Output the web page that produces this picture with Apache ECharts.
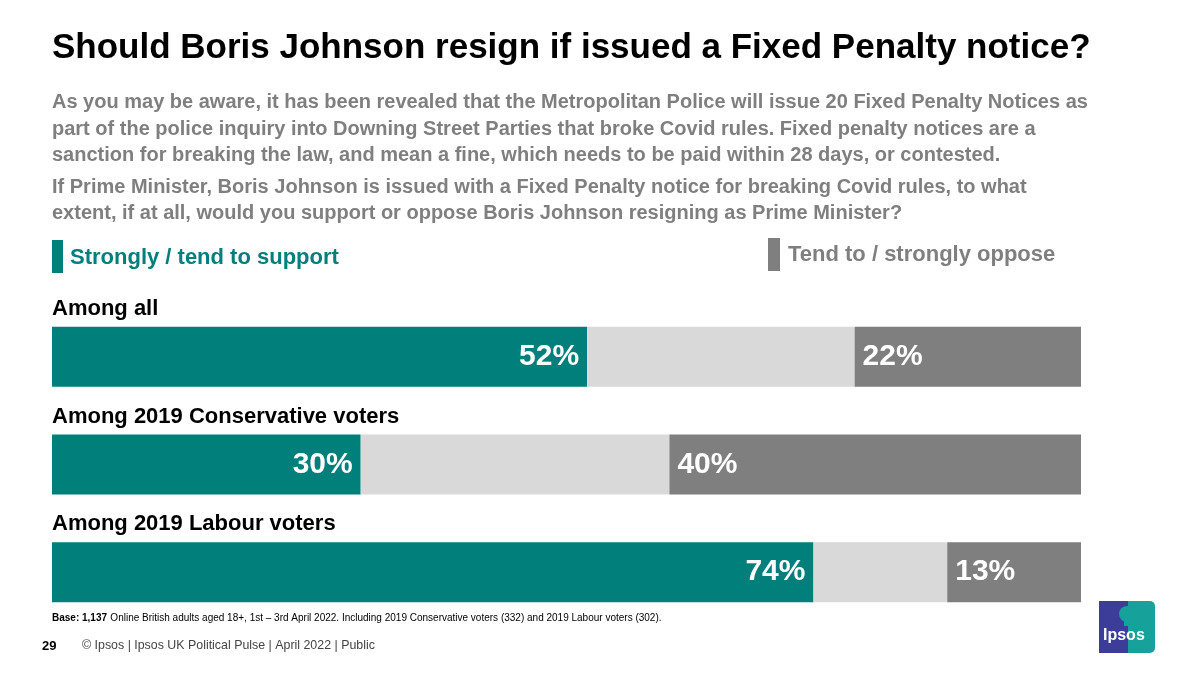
<!DOCTYPE html>
<html>
<head>
<meta charset="utf-8">
<script src="https://cdn.jsdelivr.net/npm/echarts@6/dist/echarts.min.js"></script>
<style>html,body{margin:0;padding:0;background:#fff;}#c{width:1200px;height:675px;}</style>
</head>
<body>
<div id="c"></div>
<script>
const categories = ['Among all', 'Among 2019 Conservative voters', 'Among 2019 Labour voters'];
const support = [52, 30, 74];
const neither = [26, 30, 13];
const oppose = [22, 40, 13];

const FONT = '"Liberation Sans", Arial, Helvetica, sans-serif';
const TEAL = '#007F7B';
const DGREY = '#7F7F7F';
const LGREY = '#D9D9D9';

const chart = echarts.init(document.getElementById('c'));
const subStyle = {fill: '#7F7F7F', font: 'bold 20px ' + FONT};
chart.setOption({
  animation: false,
  grid: {left: 52, right: 119, top: 303, bottom: 49, containLabel: false},
  xAxis: {type: 'value', min: 0, max: 100, show: false},
  yAxis: {
    type: 'category', data: categories, inverse: true,
    axisLine: {show: false}, axisTick: {show: false}, splitLine: {show: false},
    axisLabel: {
      inside: true, align: 'left', verticalAlign: 'bottom', margin: 0,
      padding: [0, 0, 37, 0],
      color: '#000', fontFamily: FONT, fontWeight: 'bold', fontSize: 22
    }
  },
  series: [
    {name: 'Strongly / tend to support', type: 'bar', stack: 't', data: support, barWidth: 60,
     itemStyle: {color: TEAL},
     label: {show: true, position: 'insideRight', distance: 8, formatter: '{c}%', color: '#fff',
       fontFamily: FONT, fontWeight: 'bold', fontSize: 30}},
    {name: 'Neither', type: 'bar', stack: 't', data: neither, barWidth: 60,
     itemStyle: {color: LGREY}, label: {show: false}},
    {name: 'Tend to / strongly oppose', type: 'bar', stack: 't', data: oppose, barWidth: 60,
     itemStyle: {color: DGREY},
     label: {show: true, position: 'insideLeft', distance: 8, formatter: '{c}%', color: '#fff',
       fontFamily: FONT, fontWeight: 'bold', fontSize: 30}}
  ],
  graphic: [
    {type: 'text', left: 52, top: 31, style: {text: 'Should Boris Johnson resign if issued a Fixed Penalty notice?', fill: '#000', font: 'bold 35px ' + FONT}},
    {type: 'text', left: 52, top: 92, style: Object.assign({text: 'As you may be aware, it has been revealed that the Metropolitan Police will issue 20 Fixed Penalty Notices as'}, subStyle)},
    {type: 'text', left: 52, top: 119, style: Object.assign({text: 'part of the police inquiry into Downing Street Parties that broke Covid rules. Fixed penalty notices are a'}, subStyle)},
    {type: 'text', left: 52, top: 145, style: Object.assign({text: 'sanction for breaking the law, and mean a fine, which needs to be paid within 28 days, or contested.'}, subStyle)},
    {type: 'text', left: 52, top: 177, style: Object.assign({text: 'If Prime Minister, Boris Johnson is issued with a Fixed Penalty notice for breaking Covid rules, to what'}, subStyle)},
    {type: 'text', left: 52, top: 203, style: Object.assign({text: 'extent, if at all, would you support or oppose Boris Johnson resigning as Prime Minister?'}, subStyle)},
    {type: 'rect', shape: {x: 52, y: 240, width: 11, height: 33}, style: {fill: TEAL}},
    {type: 'text', left: 70, top: 247, style: {text: 'Strongly / tend to support', fill: TEAL, font: 'bold 22px ' + FONT}},
    {type: 'rect', shape: {x: 768, y: 238, width: 12, height: 33}, style: {fill: DGREY}},
    {type: 'text', left: 788, top: 244, style: {text: 'Tend to / strongly oppose', fill: DGREY, font: 'bold 22px ' + FONT}},
    {type: 'text', left: 52, top: 612, style: {rich: {b: {fontWeight: 'bold', fontSize: 10, fontFamily: FONT, fill: '#000'}, n: {fontSize: 10, fontFamily: FONT, fill: '#000'}},
      text: '{b|Base: 1,137} {n|Online British adults aged 18+, 1st – 3rd April 2022. Including 2019 Conservative voters (332) and 2019 Labour voters (302).}'}},
    {type: 'text', left: 42, top: 640, style: {text: '29', fill: '#000', font: 'bold 13px ' + FONT}},
    {type: 'text', left: 82, top: 640, style: {text: '© Ipsos | Ipsos UK Political Pulse | April 2022 | Public', fill: '#444', font: '12.4px ' + FONT}},
    {type: 'rect', shape: {x: 1099, y: 601, width: 29, height: 52}, style: {fill: '#3B3D99'}},
    {type: 'rect', shape: {x: 1128, y: 601, width: 27, height: 52, r: [0, 5, 5, 0]}, style: {fill: '#17A19B'}},
    {type: 'circle', shape: {cx: 1127, cy: 614, r: 8}, style: {fill: '#17A19B'}},
    {type: 'rect', shape: {x: 1124, y: 618, width: 7, height: 8}, style: {fill: '#17A19B'}},
    {type: 'text', left: 1103, top: 628, style: {text: 'Ipsos', fill: '#fff', font: 'bold 16px ' + FONT}}
  ]
});
</script>
</body>
</html>
